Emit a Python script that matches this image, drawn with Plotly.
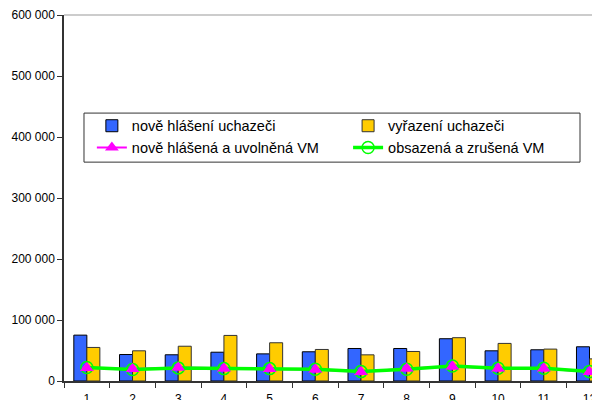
import plotly.graph_objects as go

months = ["1", "2", "3", "4", "5", "6", "7", "8", "9", "10", "11", "12"]
nove_uchazeci = [75200, 43400, 43000, 47200, 44500, 47900, 53300, 53300, 69300, 49500, 51200, 56100]
vyrazeni_uchazeci = [55000, 49500, 57000, 74700, 62700, 51700, 42900, 48400, 71000, 61600, 52300, 36300]
nove_vm = [21500, 19800, 22000, 20300, 19800, 18700, 14800, 20300, 23600, 20300, 20300, 14800]
obsazena_vm = [22000, 18700, 21500, 20300, 20300, 19300, 15400, 19300, 24700, 20900, 20900, 15400]

font = "Liberation Sans, Arial, sans-serif"

fig = go.Figure()
fig.add_trace(go.Bar(x=months, y=nove_uchazeci, name="nově hlášení uchazeči", legend="legend",
                     marker=dict(color="#3366FF", line=dict(color="#000000", width=1))))
fig.add_trace(go.Bar(x=months, y=vyrazeni_uchazeci, name="vyřazení uchazeči", legend="legend2",
                     marker=dict(color="#FFCC00", line=dict(color="#333333", width=1))))
fig.add_trace(go.Scatter(x=months, y=nove_vm, name="nově hlášená a uvolněná VM", legend="legend",
                         mode="lines+markers", line=dict(color="#FF00FF", width=2),
                         marker=dict(symbol="triangle-up", size=12, color="#FF00FF")))
fig.add_trace(go.Scatter(x=months, y=obsazena_vm, name="obsazená a zrušená VM", legend="legend2",
                         mode="lines+markers", line=dict(color="#00FF00", width=3.5),
                         marker=dict(symbol="circle-open", size=12, color="#00FF00",
                                     line=dict(width=1.5))))
# magenta markers drawn again on top of the green line
fig.add_trace(go.Scatter(x=months, y=nove_vm, mode="markers", showlegend=False, hoverinfo="skip",
                         marker=dict(symbol="triangle-up", size=12, color="#FF00FF")))

leg_common = dict(orientation="v", yanchor="top", xanchor="left", bgcolor="rgba(0,0,0,0)",
                  borderwidth=0, font=dict(family=font, size=14.5, color="#000000"),
                  itemwidth=30, tracegroupgap=0)

fig.update_layout(
    width=592, height=392,
    margin=dict(l=56, r=0, t=7, b=19, autoexpand=False),
    paper_bgcolor="white", plot_bgcolor="white",
    separators=". ",
    barmode="group", bargap=0.43, bargroupgap=0,
    font=dict(family=font, size=12, color="#000000"),
    showlegend=True,
    legend=dict(x=0.052, y=0.741, **leg_common),
    legend2=dict(x=0.53, y=0.741, **leg_common),
    shapes=[dict(type="line", xref="paper", yref="paper", x0=0, x1=1, y0=1, y1=1,
                 line=dict(color="#999999", width=1)),
            dict(type="rect", xref="paper", yref="paper", x0=0.0373, x1=0.9627,
                 y0=0.598, y1=0.732, line=dict(color="#333333", width=1),
                 fillcolor="white", layer="below")],
)
fig.update_xaxes(type="category", range=[-0.5, 11.23], showline=True, linecolor="#333333",
                 linewidth=1.5, ticks="outside", tickson="boundaries", ticklen=5,
                 tickcolor="#333333", showgrid=False, tickfont=dict(size=12), automargin=False,
                 ticklabelstandoff=6)
fig.update_yaxes(range=[0, 600000], dtick=100000, tickformat=",d", showline=True,
                 linecolor="#333333", linewidth=1.5, ticks="outside", ticklen=5,
                 tickcolor="#333333", showgrid=False, zeroline=False, tickfont=dict(size=12),
                 automargin=False)

fig.write_html("out.html")
